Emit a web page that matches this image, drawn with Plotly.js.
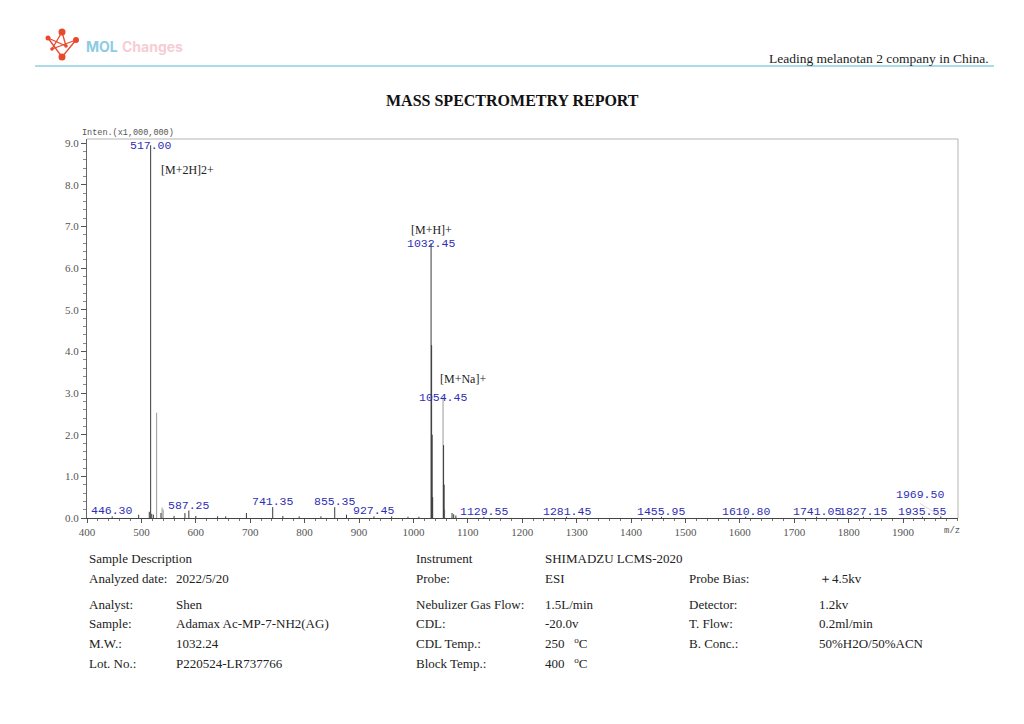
<!DOCTYPE html>
<html>
<head>
<meta charset="utf-8">
<script src="https://cdn.plot.ly/plotly-3.0.1.min.js"></script>
<style>html,body{margin:0;padding:0;background:#fff;}#chart{width:1024px;height:724px;}</style>
</head>
<body>
<div id="chart"></div>
<script>
// ---- data ----
const darkMz  = [446.3, 495, 514.5, 517.0, 519, 522, 536, 560, 580, 587.25, 600, 640, 655, 693, 741.35, 760, 790, 830, 855.35, 877, 927.45, 960, 990, 1010, 1032.45, 1033.45, 1034.45, 1035.4, 1055.45, 1056.45, 1071, 1074, 1078, 1129.55, 1281.45, 1455.95, 1610.8, 1741.05, 1827.15, 1935.55, 1969.5];
const darkInt = [0.04, 0.08, 0.15, 8.95, 0.10, 0.08, 0.12, 0.05, 0.12, 0.18, 0.05, 0.04, 0.04, 0.12, 0.26, 0.05, 0.04, 0.04, 0.26, 0.08, 0.04, 0.04, 0.03, 0.03, 6.60, 4.15, 2.00, 0.50, 1.75, 0.80, 0.12, 0.09, 0.06, 0.03, 0.03, 0.03, 0.03, 0.03, 0.03, 0.03, 0.04];
const lightMz  = [528, 538, 540, 1054.45, 1057.4];
const lightInt = [2.53, 0.25, 0.20, 2.90, 0.20];
const labelMz  = [446.3, 517.0, 587.25, 741.35, 855.35, 927.45, 1032.45, 1054.45, 1129.55, 1281.45, 1455.95, 1610.8, 1741.05, 1827.15, 1935.55, 1969.5];
const labelInt = [0.04, 8.95, 0.18, 0.26, 0.26, 0.04, 6.60, 2.90, 0.03, 0.03, 0.03, 0.03, 0.03, 0.03, 0.03, 0.04];
const labelText = ["446.30","517.00","587.25","741.35","855.35","927.45","1032.45","1054.45","1129.55","1281.45","1455.95","1610.80","1741.05","1827.15","1935.55","1969.50"];
const ionNames = ["[M+2H]2+", "[M+H]+", "[M+Na]+"];
const xTicks = [400,500,600,700,800,900,1000,1100,1200,1300,1400,1500,1600,1700,1800,1900];
const yTicks = [0,1,2,3,4,5,6,7,8,9];

const sampleLabels = ["Analyzed date:", "Analyst:", "Sample:", "M.W.:", "Lot. No.:"];
const sampleValues = ["2022/5/20", "Shen", "Adamax Ac-MP-7-NH2(AG)", "1032.24", "P220524-LR737766"];
const instLabels = ["Probe:", "Nebulizer Gas Flow:", "CDL:", "CDL Temp.:", "Block Temp.:"];
const instValues = ["ESI", "1.5L/min", "-20.0v", "250 &nbsp; <sup>o</sup>C", "400 &nbsp; <sup>o</sup>C"];
const condLabels = ["Probe Bias:", "Detector:", "T. Flow:", "B. Conc.:"];
const condValues = ["＋4.5kv", "1.2kv", "0.2ml/min", "50%H2O/50%ACN"];

// ---- helpers ----
const L=87, R=958, T=139, B=518;
const px = x => (x-L)/(R-L);
const py = y => (B-y)/(B-T);
function sticks(mz, inten){
  const x=[], y=[];
  mz.forEach((m,i)=>{ x.push(m,m,null); y.push(0,inten[i],null); });
  return {x, y};
}
const serif = 'Liberation Serif, Times New Roman, serif';
const mono = 'Liberation Mono, DejaVu Sans Mono, monospace';
function txt(x, y, text, o={}){
  return Object.assign({xref:'paper', yref:'paper', x:px(x), y:py(y), text, showarrow:false,
    xanchor:'left', yanchor:'middle', font:{family:serif, size:13, color:'#222'}}, o);
}

const d = sticks(darkMz, darkInt);
const l = sticks(lightMz, lightInt);
const traces = [
  {type:'scatter', mode:'lines', x:l.x, y:l.y, line:{color:'#9a9a9a', width:1}, hoverinfo:'skip'},
  {type:'scatter', mode:'lines', x:d.x, y:d.y, line:{color:'#3a3a3a', width:1}, hoverinfo:'skip'}
];

const ann = [];
// peak labels
labelMz.forEach((m,i)=>{
  const big = labelInt[i] > 1;
  const a = {xref:'x', yref:'y', x:m, y:labelInt[i], text:labelText[i], showarrow:false,
    xanchor:'center', yanchor: big ? 'middle' : 'bottom', yshift: big ? 0 : -3,
    font:{family:mono, size:11.5, color:'#2e2eb4'}};
  if (labelText[i] === "1969.50") {
    Object.assign(a, {showarrow:true, arrowhead:0, arrowwidth:0.6, arrowcolor:'#bbb', ax:-21, ay:-13, yshift:0});
  }
  ann.push(a);
});
// ion names
ann.push(txt(159, 170, ionNames[0], {font:{family:serif, size:12, color:'#222'}}));
ann.push(txt(409, 230, ionNames[1], {font:{family:serif, size:12, color:'#222'}}));
ann.push(txt(438, 379, ionNames[2], {font:{family:serif, size:12, color:'#222'}}));
// axis captions
ann.push(txt(80, 133, "Inten.(x1,000,000)", {font:{family:mono, size:8.5, color:'#555'}}));
ann.push(txt(942, 531, "m/z", {font:{family:mono, size:9, color:'#555'}}));
// header
ann.push(txt(84, 47, "<b>MOL</b>", {font:{family:'Inter, Roboto, sans-serif', size:14, color:'#8dcbe4'}}));
ann.push(txt(120, 47, "<b>Changes</b>", {font:{family:'Inter, Roboto, sans-serif', size:14, color:'#f6cdd4'}}));
ann.push(txt(991, 59, "Leading melanotan 2 company in China.", {xanchor:'right', font:{family:serif, size:13.5, color:'#222'}}));
ann.push(txt(512, 101, "<b>MASS SPECTROMETRY REPORT</b>", {xanchor:'center', font:{family:serif, size:16, color:'#111'}}));
// table
ann.push(txt(87, 558, "Sample Description"));
const rowsY = [578, 604, 623, 643, 663];
sampleLabels.forEach((s,i)=>{ ann.push(txt(87, rowsY[i], s)); });
sampleValues.forEach((s,i)=>{ ann.push(txt(174, rowsY[i], s)); });
ann.push(txt(414, 558, "Instrument"));
ann.push(txt(543, 558, "SHIMADZU LCMS-2020"));
instLabels.forEach((s,i)=>{ ann.push(txt(414, rowsY[i], s)); });
instValues.forEach((s,i)=>{ ann.push(txt(543, rowsY[i], s)); });
condLabels.forEach((s,i)=>{ ann.push(txt(687, rowsY[i], s)); });
condValues.forEach((s,i)=>{ ann.push(txt(817, rowsY[i], s)); });

// shapes: frame top/right, header line, logo
const shapes = [
  {type:'line', xref:'paper', yref:'paper', x0:0, x1:1, y0:1, y1:1, line:{color:'#b5b5b5', width:1}},
  {type:'line', xref:'paper', yref:'paper', x0:1, x1:1, y0:0, y1:1, line:{color:'#b5b5b5', width:1}},
  {type:'line', xref:'paper', yref:'paper', x0:px(35), x1:px(994), y0:py(66), y1:py(66), line:{color:'#8fd0e2', width:1.5}}
];
const red = '#e8492d';
const logoLines = [[48,38,62,57],[62,57,76,40],[62,32,52,49],[62,32,66,46],[48,38,66,46],[52,49,76,40]];
logoLines.forEach(s=>shapes.push({type:'line', xref:'paper', yref:'paper', x0:px(s[0]), y0:py(s[1]), x1:px(s[2]), y1:py(s[3]), line:{color:red, width:1.3}}));
const nodes = [[62,32,3.5],[48,38,2.5],[76,40,3],[62,57,3.5],[52,49,1.8],[66,46,1.8]];
nodes.forEach(n=>shapes.push({type:'circle', xref:'paper', yref:'paper', x0:px(n[0]-n[2]), x1:px(n[0]+n[2]), y0:py(n[1]+n[2]), y1:py(n[1]-n[2]), fillcolor:red, line:{color:red, width:0}}));

const layout = {
  width:1024, height:724, autosize:false,
  margin:{l:L, r:1024-R, t:T, b:724-B, pad:0},
  paper_bgcolor:'#fff', plot_bgcolor:'#fff',
  showlegend:false,
  xaxis:{range:[400,2001], tickvals:xTicks, ticktext:xTicks.map(String), showgrid:false, zeroline:false,
    showline:true, linecolor:'#444', linewidth:1, ticks:'outside', ticklen:4, tickcolor:'#555',
    minor:{dtick:20, ticks:'outside', ticklen:2, tickcolor:'#777', showgrid:false},
    tickfont:{family:serif, size:11, color:'#555'}, fixedrange:true},
  yaxis:{range:[0,9.1], tickvals:yTicks, ticktext:yTicks.map(v=>v.toFixed(1)), showgrid:false, zeroline:false,
    showline:true, linecolor:'#666', linewidth:1, ticks:'outside', ticklen:5, tickcolor:'#555',
    minor:{dtick:0.2, ticks:'outside', ticklen:3, tickcolor:'#888', showgrid:false},
    tickfont:{family:serif, size:11, color:'#555'}, fixedrange:true},
  annotations:ann, shapes:shapes
};
Plotly.newPlot('chart', traces, layout, {displayModeBar:false, staticPlot:true});
</script>
</body>
</html>
